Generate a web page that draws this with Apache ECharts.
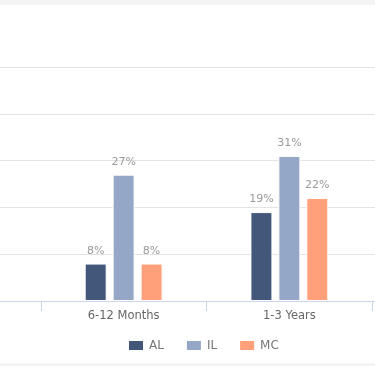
<!DOCTYPE html>
<html>
<head>
<meta charset="utf-8">
<script src="https://cdn.jsdelivr.net/npm/echarts@6/dist/echarts.min.js"></script>
<style>
html,body{margin:0;padding:0;background:#f4f4f4;width:375px;height:366px;overflow:hidden;position:relative;}
#frame{position:absolute;left:0;top:5px;width:375px;height:358px;background:#ffffff;overflow:hidden;}
#chart{position:absolute;left:-125px;top:0;width:663px;height:358px;}
</style>
</head>
<body>
<div id="frame"><div id="chart"></div></div>
<script>
// Categories (outer ones are cut off in the reference view)
const categories = ['', '6-12 Months', '1-3 Years', ''];
const seriesNames = ['AL', 'IL', 'MC'];
const alValues = [null, 8, 19, null];
const ilValues = [null, 27, 31, null];
const mcValues = [null, 8, 22, null];
const colors = ['#43577a', '#94a7c7', '#ffa07a'];

const font = 'DejaVu Sans';
const chart = echarts.init(document.getElementById('chart'), null, {renderer: 'canvas'});
const mk = (name, data, color) => ({
  name: name,
  type: 'bar',
  data: data,
  barWidth: 22,
  barGap: '27%',
  itemStyle: {color: color, borderColor: '#ffffff', borderWidth: 1},
  label: {
    show: true, position: 'top', distance: 7,
    formatter: '{c}%',
    color: '#999999', fontFamily: font, fontSize: 11
  }
});
chart.setOption({
  animation: false,
  color: colors,
  grid: {left: 0, right: 0, top: 62, bottom: 62, containLabel: false, outerBoundsMode: 'none'},
  xAxis: {
    type: 'category',
    data: categories,
    axisLine: {lineStyle: {color: '#ccd6eb', width: 1}},
    axisTick: {show: true, interval: 0, length: 10, lineStyle: {color: '#ccd6eb', width: 1}},
    axisLabel: {interval: 0, color: '#666666', fontFamily: font, fontSize: 11.5, margin: 9}
  },
  yAxis: {
    type: 'value', min: 0, max: 50, interval: 10,
    axisLabel: {show: false},
    axisLine: {show: false},
    axisTick: {show: false},
    splitLine: {lineStyle: {color: '#e3e3e3', width: 1}}
  },
  legend: {
    data: seriesNames,
    left: 252, top: 334, padding: 0,
    itemWidth: 16, itemHeight: 11, itemGap: 21,
    icon: 'rect',
    textStyle: {color: '#777777', fontFamily: font, fontSize: 12}
  },
  series: [
    mk(seriesNames[0], alValues, colors[0]),
    mk(seriesNames[1], ilValues, colors[1]),
    mk(seriesNames[2], mcValues, colors[2])
  ]
});
</script>
</body>
</html>
